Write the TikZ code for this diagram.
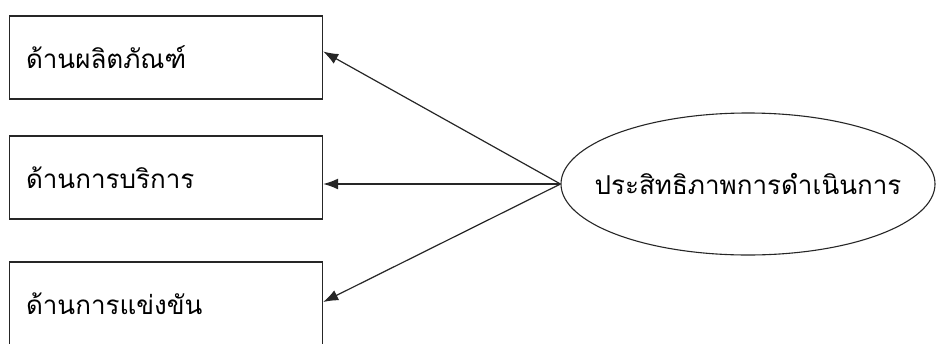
\documentclass[tikz,border=0pt]{standalone}
\usepackage{fontspec}
\newfontfamily\thaifont[Script=Thai]{Loma}
\usetikzlibrary{shapes.geometric,arrows.meta}
\colorlet{box edge}{black!85}
\tikzset{aspect/.style={draw=box edge, line width=1.4pt, minimum width=313pt, minimum height=83pt,
        text width=280pt, align=left, inner sep=0pt, font=\thaifont\fontsize{26}{30}\selectfont},
    factor/.style={draw=box edge, line width=1.1pt, ellipse, minimum width=374pt, minimum height=142pt,
        inner xsep=-24pt, inner ysep=0pt, font=\thaifont\fontsize{26}{30}\selectfont},
    link/.style={draw=black!85, line width=1.2pt, -{Latex[length=15pt,width=11pt]}}}

\begin{document}
\begin{tikzpicture}[x=1pt, y=-1pt]
 \useasboundingbox (0,0) rectangle (936,343);

 \node[aspect] (product) at (166,57.5) {ด้านผลิตภัณฑ์};
 \node[aspect] (service) at (166,177.5) {ด้านการบริการ};
 \node[aspect] (compete) at (166,303.5) {ด้านการแข่งขัน};

 \node[factor] (perf) at (748,184) {ประสิทธิภาพการดำเนินการ};

 \draw[link] (perf.west) -- ([yshift=6pt]product.east);
 \draw[link] (perf.west) -- ([yshift=-6.5pt]service.east);
 \draw[link] (perf.west) -- ([yshift=1.5pt]compete.east);

\end{tikzpicture}
\end{document}
